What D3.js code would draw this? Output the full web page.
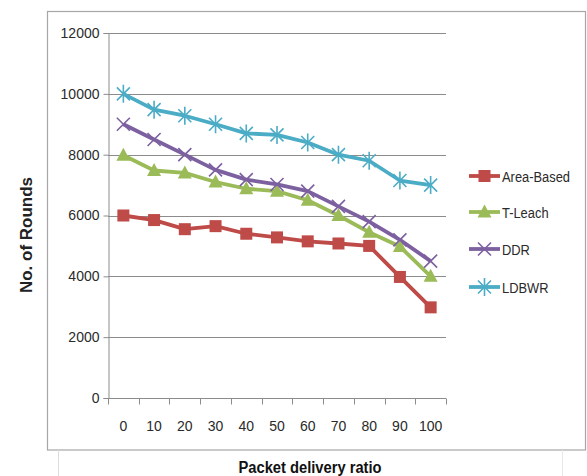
<html>
<head>
<style>
  body { margin: 0; background: #fff; }
  text { font-family: "Liberation Sans", Arial, sans-serif; }
</style>
</head>
<body>
<svg id="chart" width="587" height="476"></svg>
<script src="https://cdn.jsdelivr.net/npm/d3@7"></script>
<script>
  // data
  let categories = [0, 10, 20, 30, 40, 50, 60, 70, 80, 90, 100]
  let yTicks = [0, 2000, 4000, 6000, 8000, 10000, 12000]
  let seriesNames = ["Area-Based", "T-Leach", "DDR", "LDBWR"]
  let areaBased = [6000, 5850, 5550, 5650, 5400, 5280, 5150, 5080, 5000, 3980, 2980]
  let tLeach = [7980, 7480, 7400, 7100, 6880, 6800, 6500, 6000, 5450, 4980, 4000]
  let ddr = [9000, 8500, 8000, 7500, 7180, 7020, 6800, 6300, 5800, 5200, 4500]
  let ldbwr = [10000, 9480, 9280, 9000, 8700, 8650, 8400, 8000, 7800, 7150, 7000]

  let colors = ["#be4b48", "#9bbb59", "#7d60a0", "#4bacc6"]
  let markers = ["square", "triangle", "cross", "star"]
  let allSeries = [areaBased, tLeach, ddr, ldbwr].map((values, i) => ({
    name: seriesNames[i], color: colors[i], marker: markers[i],
    points: values.map((v, j) => ({ x: categories[j], y: v }))
  }))

  let svg = d3.select("#chart")

  // outer frame like the spreadsheet chart area
  svg.append("rect").attr("x", 47.5).attr("y", 11.5).attr("width", 538).attr("height", 438.5)
    .attr("fill", "none").attr("stroke", "#a6a6a6").attr("stroke-width", 1.2)
  svg.append("line").attr("x1", 58.5).attr("x2", 58.5).attr("y1", 450).attr("y2", 476)
    .attr("stroke", "#ddd")
  svg.append("line").attr("x1", 562.5).attr("x2", 562.5).attr("y1", 450).attr("y2", 476)
    .attr("stroke", "#e8e8e8")

  let plotLeft = 108, plotRight = 446, plotTop = 33, plotBottom = 398

  let x = d3.scaleBand().domain(categories).range([plotLeft, plotRight])
  let y = d3.scaleLinear().domain([0, 12000]).range([plotBottom, plotTop])
  let cx = d => x(d) + x.bandwidth() / 2

  // gridlines
  svg.append("g").selectAll("line").data(yTicks.filter(t => t > 0)).join("line")
    .attr("x1", plotLeft).attr("x2", plotRight)
    .attr("y1", d => Math.round(y(d)) + 0.5).attr("y2", d => Math.round(y(d)) + 0.5)
    .attr("stroke", "#8c8c8c").attr("stroke-width", 1)

  // y axis
  let yAxis = d3.axisLeft(y).tickValues(yTicks).tickSize(5).tickPadding(4).tickFormat(d3.format("d"))
  let gy = svg.append("g").attr("transform", `translate(${plotLeft + 0.5},0)`).call(yAxis)
  gy.select(".domain").attr("stroke", "#8c8c8c")
  gy.selectAll(".tick line").attr("stroke", "#8c8c8c")
  gy.selectAll("text").attr("font-size", 14).attr("fill", "#2a2a2a")
    .style("font-family", '"Liberation Sans", Arial, sans-serif')

  // x axis with ticks between categories
  let gx = svg.append("g").attr("transform", `translate(0,${plotBottom + 0.5})`)
  gx.append("line").attr("x1", plotLeft).attr("x2", plotRight).attr("stroke", "#8c8c8c")
  let boundaries = categories.map(c => x(c)).concat([plotRight])
  gx.selectAll("line.tk").data(boundaries).join("line").attr("class", "tk")
    .attr("x1", d => Math.round(d) + 0.5).attr("x2", d => Math.round(d) + 0.5)
    .attr("y1", 0).attr("y2", 6).attr("stroke", "#8c8c8c")
  gx.selectAll("text").data(categories).join("text")
    .attr("x", d => cx(d)).attr("y", 32).attr("text-anchor", "middle")
    .attr("font-size", 14).attr("fill", "#2a2a2a").text(d => d)

  // series lines
  let line = d3.line().x(d => cx(d.x)).y(d => y(d.y))
  allSeries.forEach(s => {
    svg.append("path").datum(s.points).attr("d", line)
      .attr("fill", "none").attr("stroke", s.color).attr("stroke-width", 3.8)
      .attr("stroke-linejoin", "round")
  })

  function drawMarker(g, type, color, px, py) {
    if (type === "square") {
      g.append("rect").attr("x", px - 6).attr("y", py - 6).attr("width", 12).attr("height", 12)
        .attr("fill", color)
    } else if (type === "triangle") {
      g.append("path").attr("d", `M${px},${py - 7.5}L${px + 7},${py + 5.5}L${px - 7},${py + 5.5}Z`)
        .attr("fill", color)
    } else if (type === "cross") {
      g.append("path").attr("d", `M${px - 6.5},${py - 6.5}L${px + 6.5},${py + 6.5}M${px - 6.5},${py + 6.5}L${px + 6.5},${py - 6.5}`)
        .attr("stroke", color).attr("stroke-width", 1.6).attr("fill", "none")
    } else {
      g.append("path").attr("d", `M${px - 6.5},${py - 6.5}L${px + 6.5},${py + 6.5}M${px - 6.5},${py + 6.5}L${px + 6.5},${py - 6.5}M${px},${py - 9}L${px},${py + 9}`)
        .attr("stroke", color).attr("stroke-width", 1.6).attr("fill", "none")
    }
  }

  allSeries.forEach(s => {
    let g = svg.append("g")
    s.points.forEach(p => drawMarker(g, s.marker, s.color, cx(p.x), y(p.y)))
  })

  // legend
  let legendY = [176, 212, 249, 287]
  allSeries.forEach((s, i) => {
    let g = svg.append("g")
    g.append("line").attr("x1", 469).attr("x2", 500).attr("y1", legendY[i]).attr("y2", legendY[i])
      .attr("stroke", s.color).attr("stroke-width", 3.8)
    drawMarker(g, s.marker, s.color, 484.5, legendY[i])
    g.append("text").attr("transform", `translate(502,${legendY[i] + 5.5}) scale(0.86,1)`)
      .attr("font-size", 15).attr("fill", "#2a2a2a").text(s.name)
  })

  // axis titles
  svg.append("text").attr("transform", "translate(32,235) rotate(-90)")
    .attr("text-anchor", "middle").attr("font-size", 17).attr("font-weight", "bold")
    .attr("fill", "#222")
    .text("No. of Rounds")
  svg.append("text").attr("transform", "translate(310,473) scale(0.92,1)").attr("text-anchor", "middle")
    .attr("font-size", 16).attr("font-weight", "bold").attr("fill", "#111")
    .text("Packet delivery ratio")
</script>
</body>
</html>
